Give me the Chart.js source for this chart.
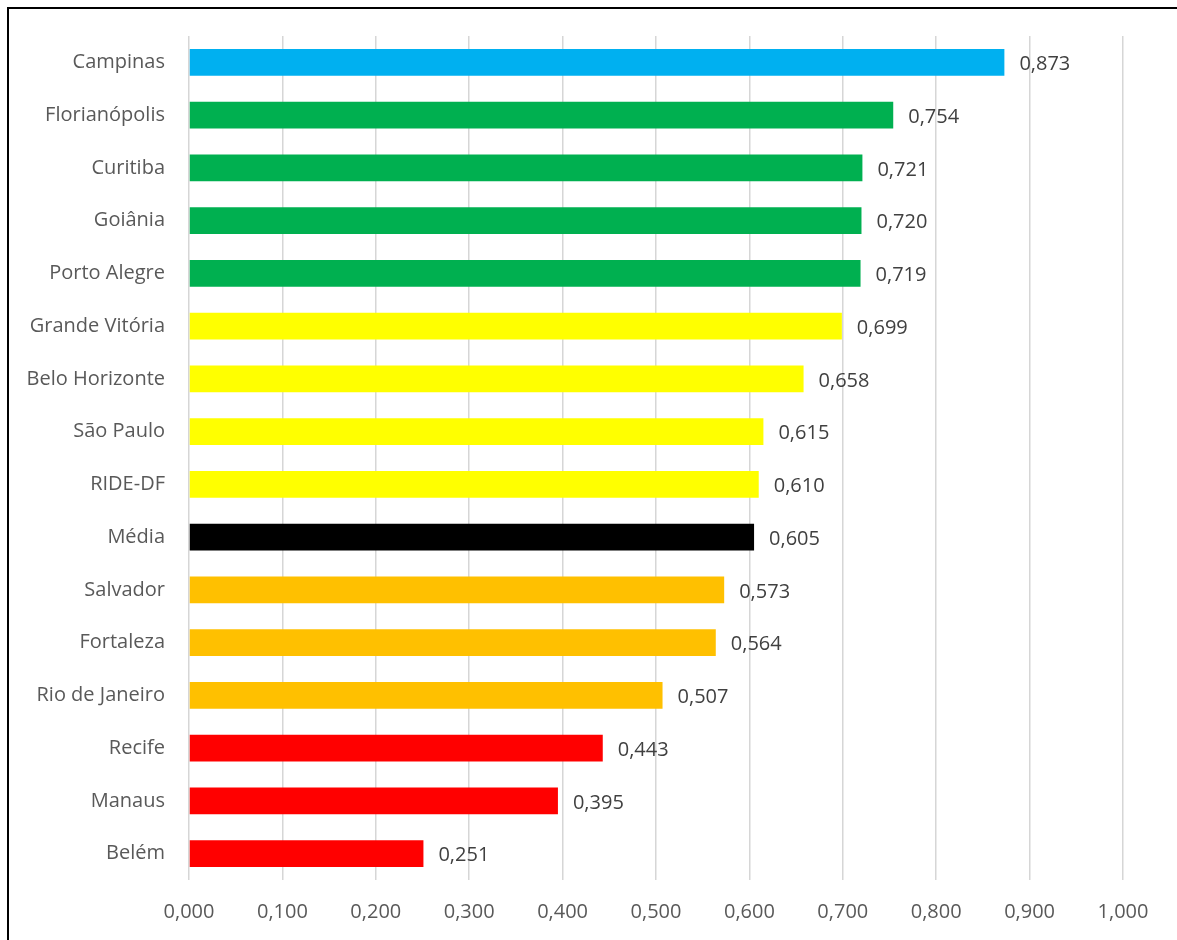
<!DOCTYPE html>
<html>
<head>
<meta charset="utf-8">
<script src="https://cdn.jsdelivr.net/npm/chart.js@4/dist/chart.umd.min.js"></script>
<style>
    html, body { margin: 0; padding: 0; background: #fff; }
    #wrap { width: 1177px; height: 940px; }
</style>
</head>
<body>
<div id="wrap"><canvas id="chart"></canvas></div>
<script>
'use strict';

const cities = [
    'Campinas', 'Florianópolis', 'Curitiba', 'Goiânia', 'Porto Alegre',
    'Grande Vitória', 'Belo Horizonte', 'São Paulo', 'RIDE-DF', 'Média',
    'Salvador', 'Fortaleza', 'Rio de Janeiro', 'Recife', 'Manaus', 'Belém'
];
const scores = [
    0.873, 0.754, 0.721, 0.720, 0.719,
    0.699, 0.658, 0.615, 0.610, 0.605,
    0.573, 0.564, 0.507, 0.443, 0.395, 0.251
];
const barColors = [
    '#00B0F0', '#00B050', '#00B050', '#00B050', '#00B050',
    '#FFFF00', '#FFFF00', '#FFFF00', '#FFFF00', '#000000',
    '#FFC000', '#FFC000', '#FFC000', '#FF0000', '#FF0000', '#FF0000'
];
const axisTicks = [0, 0.1, 0.2, 0.3, 0.4, 0.5, 0.6, 0.7, 0.8, 0.9, 1.0];

const FONT = 'Open Sans';
const FONT_SIZE = 20;
const fmt = v => v.toFixed(3).replace('.', ',');

// black frame round the chart
const framePlugin = {
    id: 'frame',
    beforeDraw(chart) {
        const ctx = chart.ctx;
        ctx.save();
        ctx.strokeStyle = '#000';
        ctx.lineWidth = 2;
        ctx.strokeRect(8, 8, chart.width + 20, chart.height + 20);
        ctx.restore();
    }
};

// value printed just past the end of each bar
const valueLabels = {
    id: 'valueLabels',
    afterDatasetsDraw(chart) {
        const ctx = chart.ctx;
        const meta = chart.getDatasetMeta(0);
        ctx.save();
        ctx.font = FONT_SIZE + 'px "' + FONT + '"';
        ctx.fillStyle = '#404040';
        ctx.textAlign = 'left';
        ctx.textBaseline = 'middle';
        meta.data.forEach((bar, i) => {
            ctx.fillText(fmt(scores[i]), bar.x + 15, bar.y + 2);
        });
        ctx.restore();
    }
};

new Chart(document.getElementById('chart'), {
    type: 'bar',
    data: {
        labels: cities,
        datasets: [{
            data: scores,
            backgroundColor: barColors,
            borderWidth: 0,
            barPercentage: 0.51,
            categoryPercentage: 1
        }]
    },
    options: {
        indexAxis: 'y',
        responsive: true,
        maintainAspectRatio: false,
        animation: false,
        layout: {padding: {left: 0, top: 36, right: 54, bottom: 0}},
        plugins: {legend: {display: false}, tooltip: {enabled: false}},
        scales: {
            x: {
                min: 0,
                max: 1,
                afterBuildTicks: scale => { scale.ticks = axisTicks.map(v => ({value: v})); },
                afterFit: scale => { scale.height = 60; },
                grid: {color: '#D6D6D6', lineWidth: 1.5, drawTicks: false},
                border: {display: false},
                ticks: {
                    padding: 20,
                    color: '#595959',
                    font: {family: FONT, size: FONT_SIZE},
                    callback: v => fmt(v)
                }
            },
            y: {
                afterFit: scale => { scale.width = 189; },
                grid: {display: false, drawTicks: false},
                border: {display: false},
                ticks: {
                    padding: 24,
                    color: '#595959',
                    font: {family: FONT, size: FONT_SIZE}
                }
            }
        }
    },
    plugins: [framePlugin, valueLabels]
});
</script>
</body>
</html>
